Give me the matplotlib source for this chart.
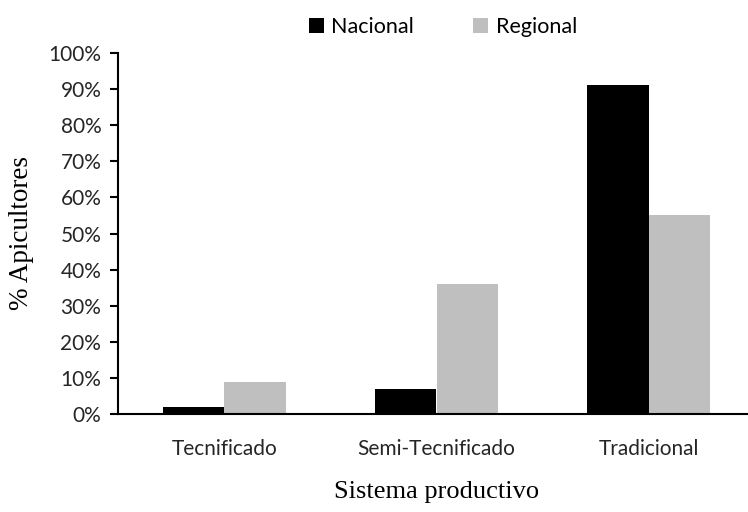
import matplotlib
matplotlib.use('Agg')
import matplotlib.pyplot as plt
import numpy as np

# datos
sistemas = ['Tecnificado', 'Semi-Tecnificado', 'Tradicional']
nacional = [2, 7, 91]
regional = [9, 36, 55]

fig = plt.figure(figsize=(7.48, 5.12), dpi=100)
ax = fig.add_axes([118/748, 98/512, 637/748, 361/512])

x = np.arange(len(sistemas))
w = 0.29
ax.bar(x - w/2, nacional, w, color='black', label='Nacional')
ax.bar(x + w/2, regional, w, color='#bfbfbf', label='Regional')

ax.set_xlim(-0.5, 2.5)
ax.set_ylim(0, 100)
ax.set_yticks(range(0, 101, 10))
ax.set_yticklabels(['{}%'.format(v) for v in range(0, 101, 10)])
ax.set_xticks(x)
ax.set_xticklabels(sistemas)

for s in ['top', 'right']:
    ax.spines[s].set_visible(False)
ax.spines['left'].set_linewidth(1.5)
ax.spines['bottom'].set_linewidth(1.5)
ax.tick_params(axis='y', length=6, width=1.5, labelsize=15, pad=6)
ax.tick_params(axis='x', length=0, labelsize=15, pad=18)
for lab in ax.get_xticklabels() + ax.get_yticklabels():
    lab.set_family('Lato')
    lab.set_color('#262626')

ax.set_ylabel('% Apicultores', family='Liberation Serif', fontsize=19.5, labelpad=10)
ax.set_xlabel('Sistema productivo', family='Liberation Serif', fontsize=19, labelpad=16)

fig.legend(loc='upper center', bbox_to_anchor=(0.592, 1.005), ncol=2, frameon=False,
           prop={'family': 'Lato', 'size': 15.5}, handlelength=0.7, handleheight=0.7,
           handletextpad=0.35, columnspacing=2.75)

plt.savefig('out.png', dpi=100)
